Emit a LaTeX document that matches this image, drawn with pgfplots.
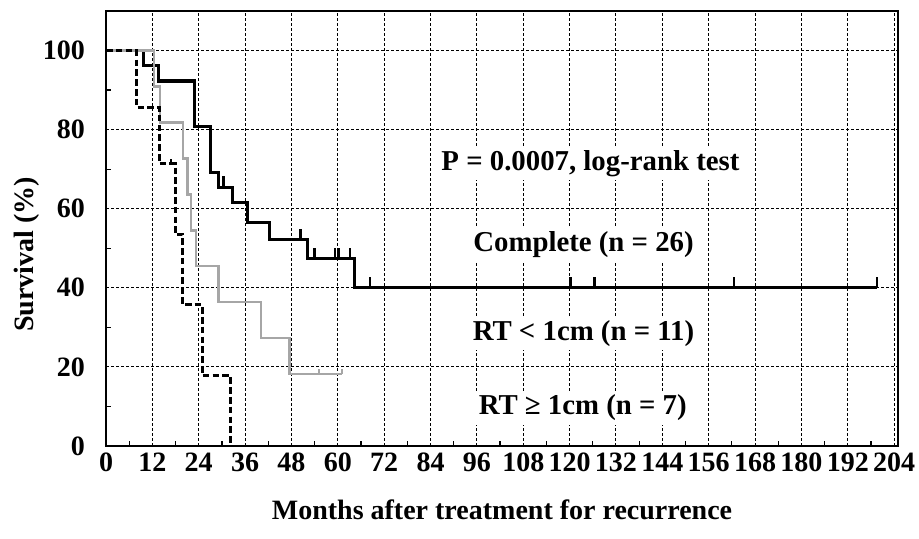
\documentclass[border=0pt]{standalone}
\usepackage{fontspec}
\setmainfont{Liberation Serif}
\usepackage{pgfplots}
\pgfplotsset{compat=1.18}
% censoring mark: a short upward stroke
\pgfdeclareplotmark{cens}{\pgfpathmoveto{\pgfpointorigin}\pgfpathlineto{\pgfpoint{0pt}{\pgfplotmarksize}}\pgfusepathqstroke}
\begin{document}
\begin{tikzpicture}
\path[use as bounding box] (-53pt,-46.5pt) rectangle (406.5pt,223pt);
\begin{axis}[
  scale only axis, width=396pt, height=217.5pt,
  xmin=0, xmax=205, ymin=0, ymax=110,
  xtick={0,12,...,204}, ytick={0,20,...,100},
  minor xtick={6,18,...,198}, minor ytick={10,30,...,90},
  tick pos=left, tick align=inside,
  major tick length=0pt, minor tick length=2.5pt,
  every tick/.style={black, line width=0.6pt},
  grid=major,
  major grid style={black, line width=0.5pt, dash pattern=on 1.6pt off 0.9pt},
  axis line style={black, line width=0.9pt},
  ticklabel style={font=\bfseries\fontsize{14}{16}\selectfont},
  /pgf/number format/assume math mode=true,
  yticklabel style={xshift=-7pt},
  xticklabel style={inner xsep=0pt},
  xlabel={Months after treatment for recurrence},
  ylabel={Survival (\%)},
  label style={font=\bfseries\fontsize{14}{16}\selectfont},
  xlabel style={yshift=-7pt},
  ylabel style={at={(ticklabel cs:0.44)}},
  ylabel shift=-5pt,
  clip=false,
]
% Complete (n = 26)
\addplot[const plot, black, line width=1.6pt] coordinates {
  (0,100)(9.7,96.2)(13.6,92.3)(23,80.8)(27,69.2)(29.1,65.4)(32.8,61.5)
  (36.7,56.6)(42.3,52.2)(52.2,47.4)(64.3,40.0)(199.5,40.0)};
\addplot[only marks, mark=cens, mark size=5.5pt, black, line width=1.2pt] coordinates {
  (30.4,65.4)(50.3,52.2)(54,47.4)(59.2,47.4)(60.2,47.4)(63.2,47.4)
  (68.4,40)(120.2,40)(126.4,40)(162.5,40)(199.5,40)};
% RT < 1cm (n = 11)
\addplot[const plot, black!35, line width=1.1pt] coordinates {
  (0,100)(12.5,90.9)(14,81.8)(20,72.7)(21.1,63.6)(21.9,54.5)(23.2,45.5)
  (29.1,36.4)(40.2,27.3)(47.5,18.2)(61.1,18.2)};
\addplot[only marks, mark=cens, mark size=2.5pt, black!35, line width=0.8pt] coordinates {
  (55.2,18.2)(61.1,18.2)};
% RT >= 1cm (n = 7)
\addplot[const plot, black, line width=1.5pt, dash pattern=on 3.3pt off 1.6pt] coordinates {
  (0,100)(7.8,85.7)(13.8,71.4)(17.9,53.6)(19.9,35.7)(24.9,17.9)(32.1,0)};
\addplot[only marks, mark=cens, mark size=2.5pt, black, line width=1.2pt] coordinates {
  (16.8,71.4)};
\tikzset{lbl/.style={font=\bfseries\fontsize{14.4}{16}\selectfont, fill=white, inner sep=2pt}}
\node[lbl] at (axis cs:125.4,71.5) {P = 0.0007, log-rank test};
\node[lbl] at (axis cs:123.6,51) {Complete (n = 26)};
\node[lbl] at (axis cs:123.6,28.5) {RT < 1cm (n = 11)};
\node[lbl] at (axis cs:123.4,9.6) {RT ≥ 1cm (n = 7)};
\end{axis}
\end{tikzpicture}
\end{document}
